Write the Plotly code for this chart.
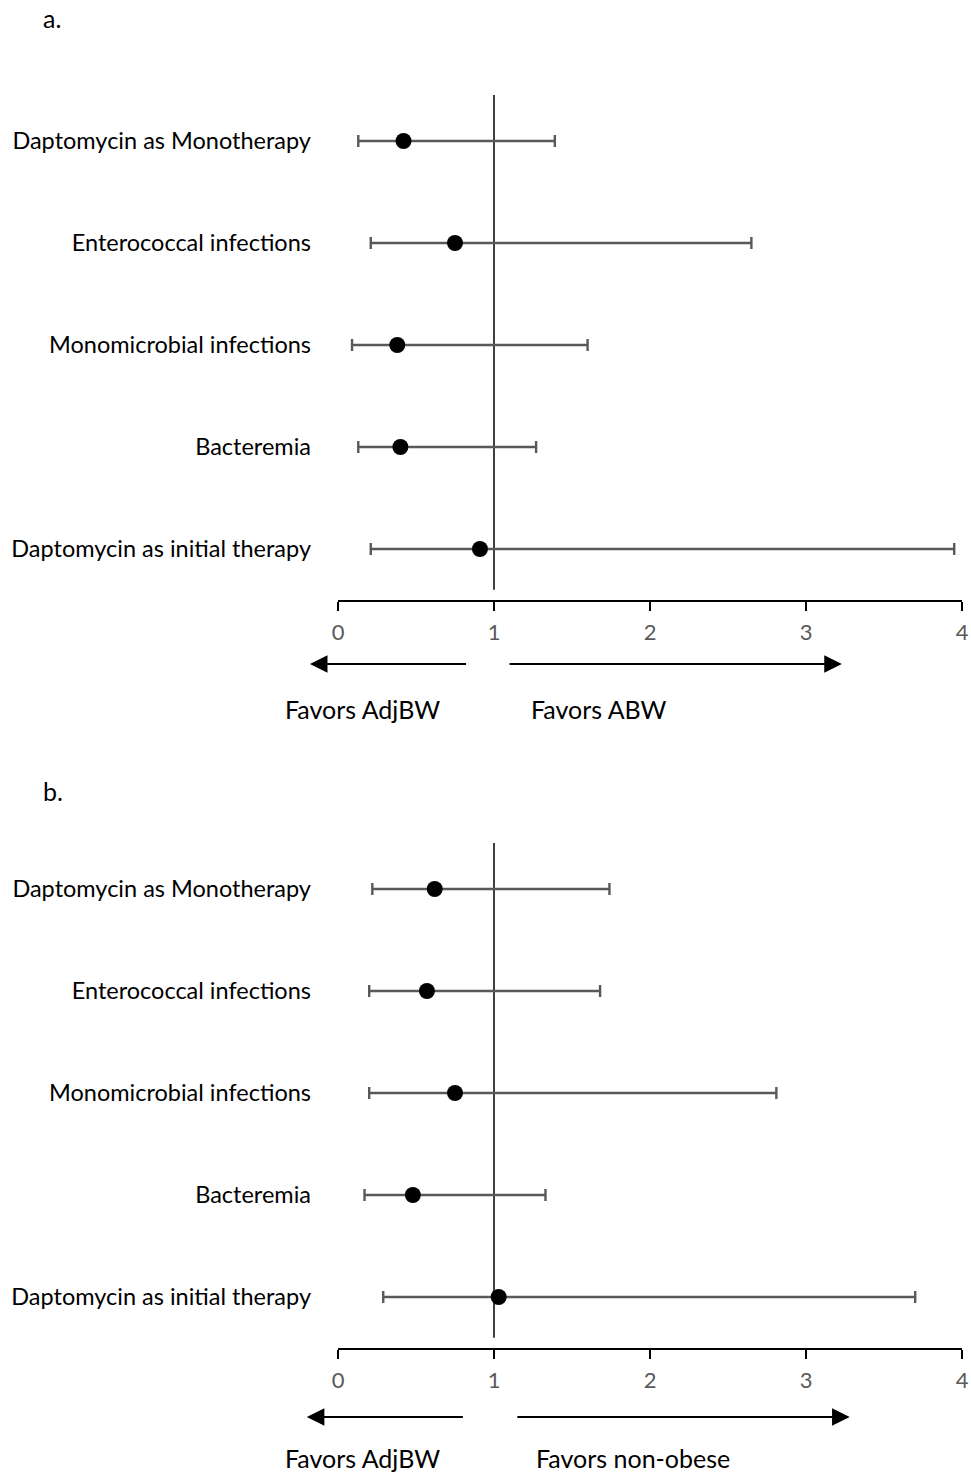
import plotly.graph_objects as go

categories = [
    "Daptomycin as Monotherapy",
    "Enterococcal infections",
    "Monomicrobial infections",
    "Bacteremia",
    "Daptomycin as initial therapy",
]

# Panel a: AdjBW vs ABW
a_est = [0.42, 0.75, 0.38, 0.40, 0.91]
a_low = [0.13, 0.21, 0.09, 0.13, 0.21]
a_high = [1.39, 2.65, 1.60, 1.27, 3.95]

# Panel b: AdjBW vs non-obese
b_est = [0.62, 0.57, 0.75, 0.48, 1.03]
b_low = [0.22, 0.20, 0.20, 0.17, 0.29]
b_high = [1.74, 1.68, 2.81, 1.33, 3.70]

tick_vals = [0, 1, 2, 3, 4]
tick_labels = ["0", "1", "2", "3", "4"]

W, H = 971, 1474
FONT = "Lato"

fig = go.Figure()

def add_panel(est, low, high, xa, ya):
    fig.add_trace(go.Scatter(
        x=est, y=list(range(len(categories))),
        mode="markers",
        marker=dict(color="black", size=16),
        error_x=dict(type="data", symmetric=False,
                     array=[h - e for h, e in zip(high, est)],
                     arrayminus=[e - l for e, l in zip(est, low)],
                     color="#595959", thickness=2.4, width=6),
        xaxis=xa, yaxis=ya, showlegend=False, hoverinfo="skip",
    ))

add_panel(a_est, a_low, a_high, "x", "y")
add_panel(b_est, b_low, b_high, "x2", "y2")

xdom = [338 / W, 962 / W]
ydom_a = [1 - 600 / H, 1 - 90 / H]
ydom_b = [1 - 1348 / H, 1 - 838 / H]

xaxis_common = dict(
    range=[0, 4], domain=xdom, tickvals=tick_vals, ticktext=tick_labels,
    showgrid=False, zeroline=False, showline=True, linecolor="black", linewidth=2,
    ticks="outside", ticklen=9, tickwidth=2, tickcolor="black",
    tickfont=dict(family=FONT, size=22, color="#595959"),
    ticklabelstandoff=3,
    fixedrange=True, automargin=False,
)
yaxis_common = dict(
    range=[4.5, -0.5], tickvals=list(range(len(categories))), ticktext=categories,
    showgrid=False, zeroline=False, showline=False, ticks="",
    tickfont=dict(family=FONT, size=23.5, color="black"),
    ticklabelstandoff=26, fixedrange=True, automargin=False,
)

fig.update_layout(
    width=W, height=H, autosize=False,
    margin=dict(l=0, r=0, t=0, b=0, pad=0),
    paper_bgcolor="white", plot_bgcolor="white",
    xaxis=dict(**xaxis_common, anchor="y"),
    yaxis=dict(**yaxis_common, domain=ydom_a, anchor="x"),
    xaxis2=dict(**xaxis_common, anchor="y2"),
    yaxis2=dict(**yaxis_common, domain=ydom_b, anchor="x2"),
)

for xr, yr in [("x", "y"), ("x2", "y2")]:
    fig.add_shape(type="line", xref=xr, yref=yr, x0=1, x1=1, y0=-0.45, y1=4.4,
                  line=dict(color="black", width=1.5), layer="below")

fig.add_annotation(text="a.", xref="paper", yref="paper", x=41 / W, y=1 - 18 / H,
                   showarrow=False, xanchor="left", yanchor="middle",
                   font=dict(family=FONT, size=25, color="black"))
fig.add_annotation(text="b.", xref="paper", yref="paper", x=41 / W, y=1 - 791 / H,
                   showarrow=False, xanchor="left", yanchor="middle",
                   font=dict(family=FONT, size=25, color="black"))

def arrows(xr, y_px, left_tail, left_head, right_tail, right_head):
    yp = 1 - y_px / H
    for tail, head in [(left_tail, left_head), (right_tail, right_head)]:
        fig.add_annotation(x=head, y=yp, ax=tail, ay=0, xref=xr, yref="paper",
                           axref=xr, ayref="pixel", text="", showarrow=True,
                           arrowhead=2, arrowsize=1.6, arrowwidth=2.2,
                           arrowcolor="black")

arrows("x", 664, 0.83, -0.18, 1.09, 3.23)
arrows("x2", 1417, 0.81, -0.20, 1.14, 3.28)

def label(xr, x, y_px, txt):
    fig.add_annotation(text=txt, xref=xr, yref="paper", x=x, y=1 - y_px / H,
                       showarrow=False, xanchor="center", yanchor="middle",
                       font=dict(family=FONT, size=25, color="black"))

label("x", 0.155, 709, "Favors AdjBW")
label("x", 1.67, 709, "Favors ABW")
label("x2", 0.155, 1458, "Favors AdjBW")
label("x2", 1.89, 1458, "Favors non-obese")

fig.write_html("out.html",
               config={"displayModeBar": False, "responsive": False},
               post_script="document.body.style.margin='0';document.body.style.overflow='hidden';")
